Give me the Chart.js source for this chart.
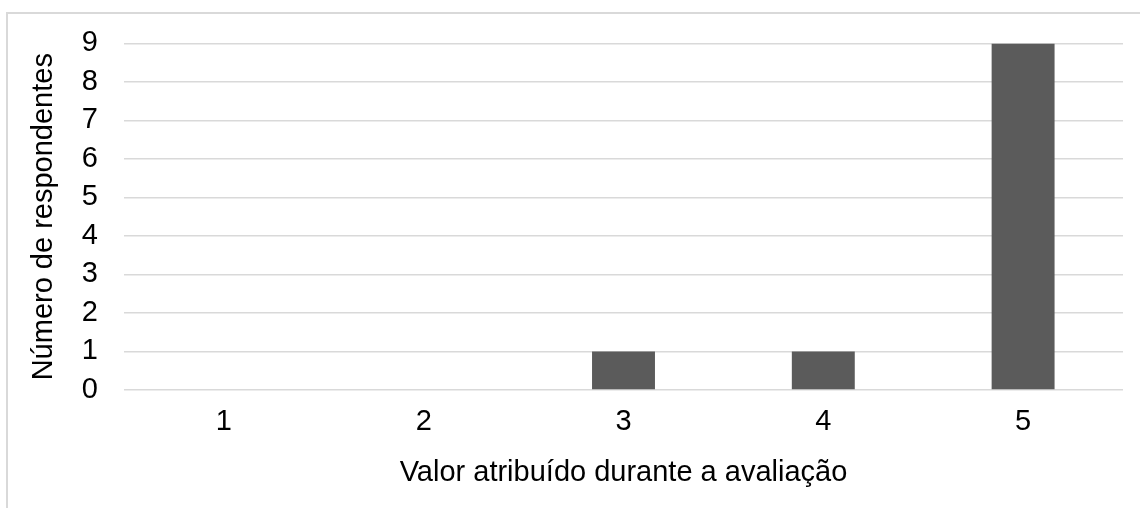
<!DOCTYPE html>
<html>
<head>
<meta charset="utf-8">
<script src="https://cdn.jsdelivr.net/npm/chart.js@4/dist/chart.umd.min.js"></script>
<style>
  html, body { margin: 0; padding: 0; background: #ffffff; overflow: hidden; }
  #wrap { position: relative; width: 1140px; height: 508px; }
  #frame {
    position: absolute; left: 6px; top: 12px; width: 1200px; height: 600px;
    border: 2px solid #d9d9d9; box-sizing: border-box;
  }
  #chart { position: absolute; left: 0; top: 0; }
</style>
</head>
<body>
<div id="wrap">
  <div id="frame"></div>
  <canvas id="chart" width="1140" height="508"></canvas>
</div>
<script>
// Avaliação: número de respondentes por valor atribuído
const categories = ['1', '2', '3', '4', '5'];
const respondentes = [0, 0, 1, 1, 9];
const yTicks = [0, 1, 2, 3, 4, 5, 6, 7, 8, 9];

const FONT = "'Liberation Sans', Arial, sans-serif";
const SIZE = 29;

new Chart(document.getElementById('chart'), {
  type: 'bar',
  data: {
    labels: categories,
    datasets: [{
      label: 'Respondentes',
      data: respondentes,
      backgroundColor: '#5b5b5b',
      borderWidth: 0,
      categoryPercentage: 1,
      barPercentage: 0.315
    }]
  },
  options: {
    responsive: false,
    animation: false,
    devicePixelRatio: 1,
    layout: { padding: { left: 10, top: 43, right: 17, bottom: 0 } },
    plugins: {
      legend: { display: false },
      tooltip: { enabled: false }
    },
    scales: {
      x: {
        grid: { display: false, drawTicks: false },
        border: { display: false },
        ticks: { color: '#000', font: { family: FONT, size: SIZE }, padding: 15 },
        title: {
          display: true,
          text: 'Valor atribuído durante a avaliação',
          color: '#000',
          font: { family: FONT, size: SIZE },
          padding: { top: 0, bottom: 18 }
        },
        afterFit: (s) => { s.height = 118; }
      },
      y: {
        min: yTicks[0],
        max: yTicks[yTicks.length - 1],
        grid: { color: '#d9d9d9', lineWidth: 1.5, drawTicks: false },
        border: { display: false },
        afterBuildTicks: (s) => { s.ticks = yTicks.map(v => ({ value: v })); },
        ticks: { color: '#000', font: { family: FONT, size: SIZE }, padding: 26 },
        title: {
          display: true,
          text: 'Número de respondentes',
          color: '#000',
          font: { family: FONT, size: SIZE },
          padding: { top: 17, bottom: 0 }
        },
        afterFit: (s) => { s.width = 114; }
      }
    }
  }
});
</script>
</body>
</html>
